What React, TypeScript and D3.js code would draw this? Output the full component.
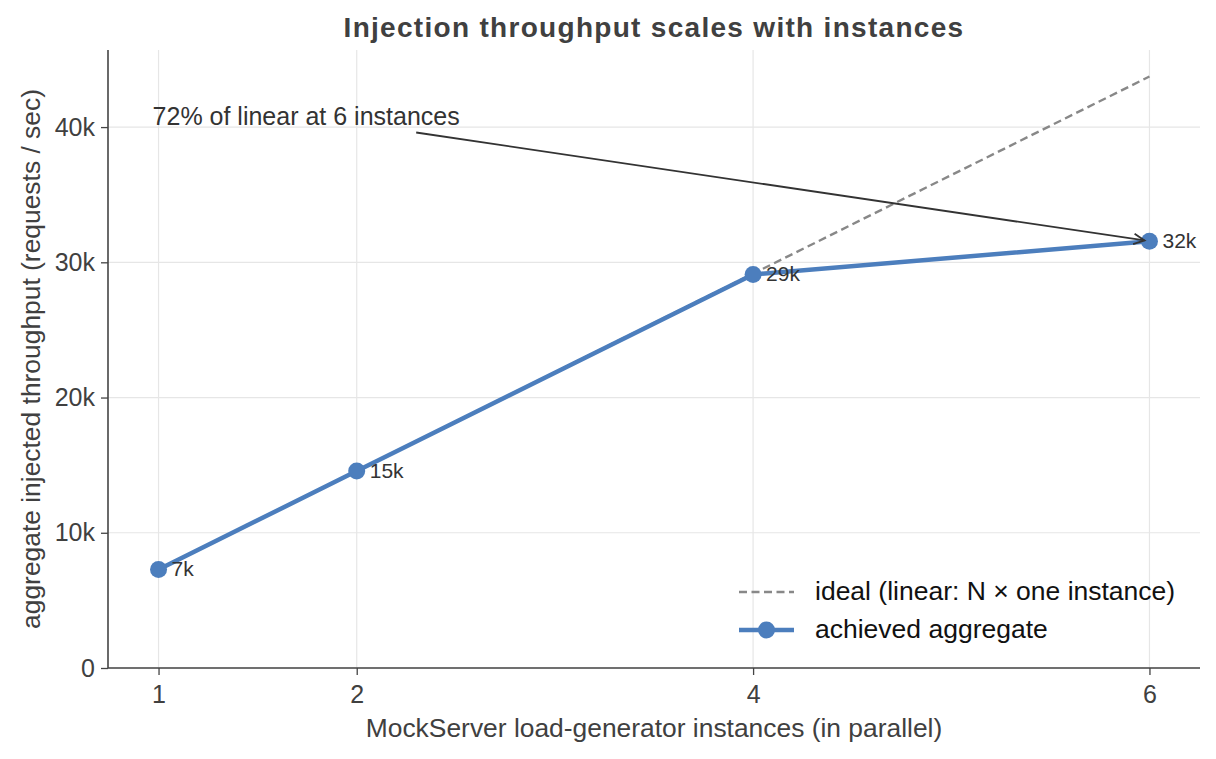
import { useEffect, useRef } from "react";
import * as d3 from "d3";

const instances = [1, 2, 4, 6];
const achieved = [7290, 14560, 29100, 31560];
const pointLabels = ["7k", "15k", "29k", "32k"];
const idealPerInstance = 7290;
const xTicks = [1, 2, 4, 6];
const yTicks = [0, 10000, 20000, 30000, 40000];
const yTickLabels = ["0", "10k", "20k", "30k", "40k"];

const BLUE = "#4c7ebd";
const FONT = "'Liberation Sans', Arial, Helvetica, sans-serif";

export default function App() {
  const ref = useRef<SVGSVGElement>(null);

  useEffect(() => {
    const svg = d3.select(ref.current);
    svg.selectAll("*").remove();

    const width = 1216;
    const height = 759;
    const margin = { top: 50, right: 16, bottom: 91, left: 108 };

    svg.attr("width", width).attr("height", height).style("font-family", FONT);

    const x = d3.scaleLinear().domain([0.745, 6.255]).range([margin.left, width - margin.right]);
    const y = d3.scaleLinear().domain([0, 45700]).range([height - margin.bottom, margin.top]);

    // grid
    const grid = svg.append("g");
    grid.selectAll("line.v")
      .data(xTicks)
      .join("line")
      .attr("x1", d => x(d)).attr("x2", d => x(d))
      .attr("y1", y(0)).attr("y2", margin.top)
      .attr("stroke", "#e6e6e6").attr("stroke-width", 1.2);
    grid.selectAll("line.h")
      .data(yTicks)
      .join("line")
      .attr("x1", margin.left).attr("x2", width - margin.right)
      .attr("y1", d => y(d)).attr("y2", d => y(d))
      .attr("stroke", "#e6e6e6").attr("stroke-width", 1.2);

    // axes
    const xAxis = svg.append("g")
      .attr("transform", `translate(0,${y(0)})`)
      .call(d3.axisBottom(x).tickValues(xTicks).tickFormat(d3.format("d")).tickSize(7).tickPadding(10));
    const yAxis = svg.append("g")
      .attr("transform", `translate(${margin.left},0)`)
      .call(d3.axisLeft(y).tickValues(yTicks).tickFormat((_, i) => yTickLabels[i]).tickSize(7).tickPadding(6));
    [xAxis, yAxis].forEach(g => {
      g.select(".domain").remove();
      g.selectAll("line").attr("stroke", "#444").attr("stroke-width", 1.3);
      g.selectAll("text").attr("fill", "#404040").style("font-size", "25px").style("font-family", FONT);
    });
    svg.append("line")
      .attr("x1", margin.left).attr("x2", margin.left)
      .attr("y1", margin.top).attr("y2", y(0))
      .attr("stroke", "#444").attr("stroke-width", 1.6);
    svg.append("line")
      .attr("x1", margin.left).attr("x2", width - margin.right)
      .attr("y1", y(0)).attr("y2", y(0))
      .attr("stroke", "#444").attr("stroke-width", 1.6);

    // ideal linear scaling
    const line = d3.line<[number, number]>().x(d => x(d[0])).y(d => y(d[1]));
    svg.append("path")
      .attr("d", line(instances.map(n => [n, n * idealPerInstance])))
      .attr("fill", "none")
      .attr("stroke", "#888")
      .attr("stroke-width", 2.4)
      .attr("stroke-dasharray", "8,4.5");

    // achieved aggregate
    svg.append("path")
      .attr("d", line(instances.map((n, i) => [n, achieved[i]])))
      .attr("fill", "none")
      .attr("stroke", BLUE)
      .attr("stroke-width", 4.5)
      .attr("stroke-linejoin", "round");
    svg.selectAll("circle.pt")
      .data(instances)
      .join("circle")
      .attr("cx", d => x(d))
      .attr("cy", (_, i) => y(achieved[i]))
      .attr("r", 8.5)
      .attr("fill", BLUE);
    svg.selectAll("text.pt")
      .data(instances)
      .join("text")
      .attr("x", d => x(d) + 13)
      .attr("y", (_, i) => y(achieved[i]) + 7)
      .attr("fill", "#333")
      .style("font-size", "21px")
      .text((_, i) => pointLabels[i]);

    // annotation
    const ratio = achieved[3] / (6 * idealPerInstance);
    svg.append("text")
      .attr("x", x(0.97))
      .attr("y", y(40150))
      .attr("fill", "#333")
      .style("font-size", "25px")
      .text(`${Math.round(ratio * 100)}% of linear at 6 instances`);
    const ax0 = x(2.3), ay0 = y(39600);
    const px = x(6), py = y(achieved[3]);
    const ang = Math.atan2(py - ay0, px - ax0);
    const ax1 = px - Math.cos(ang) * 5, ay1 = py - Math.sin(ang) * 5;
    svg.append("line")
      .attr("x1", ax0).attr("y1", ay0).attr("x2", ax1).attr("y2", ay1)
      .attr("stroke", "#333").attr("stroke-width", 1.8);
    const head = 12, spread = 0.45;
    svg.append("path")
      .attr("d", `M${ax1 - head * Math.cos(ang - spread)},${ay1 - head * Math.sin(ang - spread)} L${ax1},${ay1} L${ax1 - head * Math.cos(ang + spread)},${ay1 - head * Math.sin(ang + spread)}`)
      .attr("fill", "none").attr("stroke", "#333").attr("stroke-width", 1.8);

    // legend
    const lg = svg.append("g").attr("transform", "translate(739,592)");
    lg.append("line").attr("x1", 0).attr("x2", 55).attr("y1", 0).attr("y2", 0)
      .attr("stroke", "#888").attr("stroke-width", 2.4).attr("stroke-dasharray", "8,4.5");
    lg.append("text").attr("x", 76).attr("y", 8).attr("fill", "#111").style("font-size", "26.5px")
      .text("ideal (linear: N × one instance)");
    lg.append("line").attr("x1", 0).attr("x2", 55).attr("y1", 38).attr("y2", 38)
      .attr("stroke", BLUE).attr("stroke-width", 4.5);
    lg.append("circle").attr("cx", 27.5).attr("cy", 38).attr("r", 8.5).attr("fill", BLUE);
    lg.append("text").attr("x", 76).attr("y", 46).attr("fill", "#111").style("font-size", "26.5px")
      .text("achieved aggregate");

    // titles
    svg.append("text")
      .attr("x", (margin.left + width - margin.right) / 2)
      .attr("y", 37)
      .attr("text-anchor", "middle")
      .attr("fill", "#404040")
      .style("font-size", "28px")
      .style("letter-spacing", "1.3px")
      .style("font-weight", "bold")
      .text("Injection throughput scales with instances");
    svg.append("text")
      .attr("x", (margin.left + width - margin.right) / 2)
      .attr("y", 737)
      .attr("text-anchor", "middle")
      .attr("fill", "#404040")
      .style("font-size", "26.4px")
      .text("MockServer load-generator instances (in parallel)");
    svg.append("text")
      .attr("transform", `translate(40,${(margin.top + y(0)) / 2}) rotate(-90)`)
      .attr("text-anchor", "middle")
      .attr("fill", "#404040")
      .style("font-size", "26.4px")
      .text("aggregate injected throughput (requests / sec)");
  }, []);

  return <svg ref={ref} style={{ display: "block", position: "absolute", left: 0, top: 0 }}></svg>;
}
